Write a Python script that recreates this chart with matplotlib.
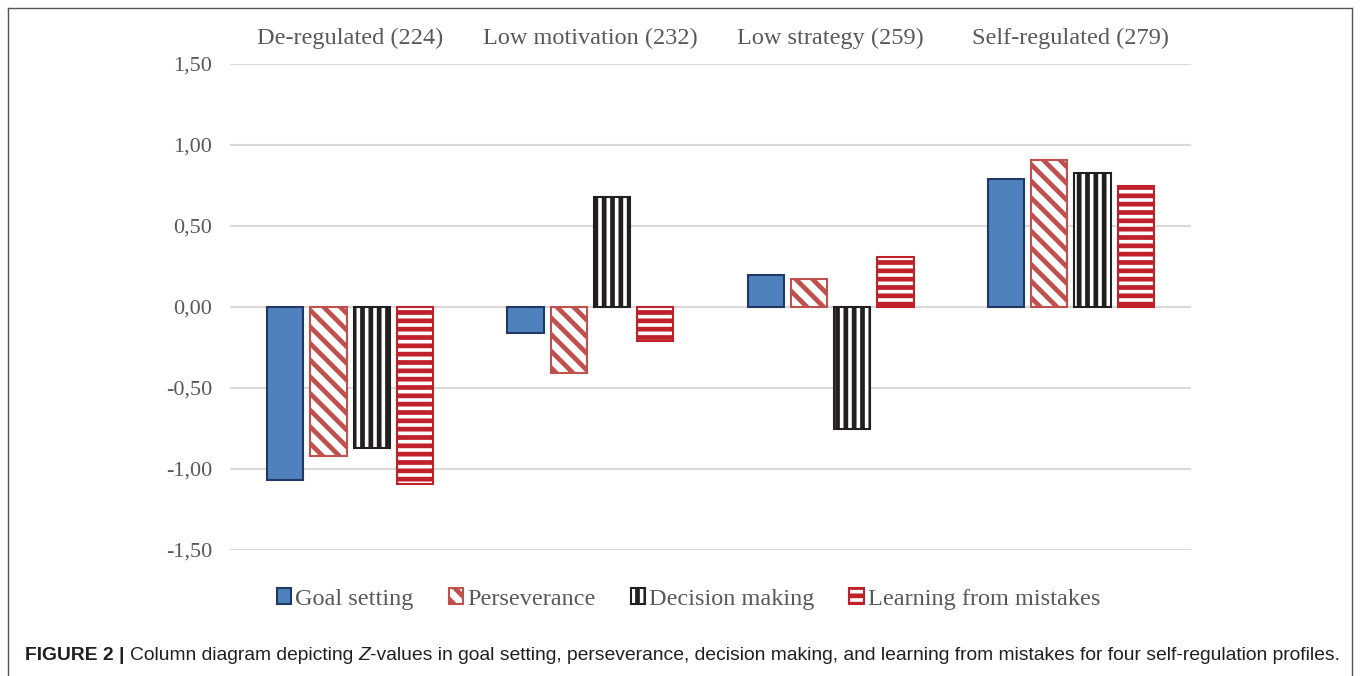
import numpy as np
import matplotlib
matplotlib.use('Agg')
import matplotlib.pyplot as plt
from matplotlib.lines import Line2D
from matplotlib.ticker import FuncFormatter

profiles = ['De-regulated (224)', 'Low motivation (232)', 'Low strategy (259)', 'Self-regulated (279)']
series = ['Goal setting', 'Perseverance', 'Decision making', 'Learning from mistakes']
goal_setting = [-1.07, -0.16, 0.20, 0.79]
perseverance = [-0.92, -0.41, 0.17, 0.91]
decision_making = [-0.87, 0.68, -0.75, 0.83]
learning = [-1.09, -0.21, 0.31, 0.75]
yticks = [-1.5, -1.0, -0.5, 0.0, 0.5, 1.0, 1.5]

plt.rcParams['hatch.linewidth'] = 3.4
txt_col = '#595959'
serif = 'Liberation Serif'

fig = plt.figure(figsize=(13.6, 6.76), dpi=100)
ax = fig.add_axes([230 / 1360, 1 - 550 / 676, 961 / 1360, 486 / 676])

x = np.arange(len(profiles))
w = 0.15
step = 0.18
styles = [
    dict(facecolor='#4F81BD', edgecolor='#1F3864', hatch=None),
    dict(facecolor='white', edgecolor='#C0504D', hatch='\\\\'),
    dict(facecolor='white', edgecolor='#231F20', hatch='||'),
    dict(facecolor='white', edgecolor='#C0202A', hatch='--'),
]
data = [goal_setting, perseverance, decision_making, learning]
for i, (vals, st) in enumerate(zip(data, styles)):
    ax.bar(x + (i - 1.5) * step, vals, width=w, label=series[i], linewidth=1.5,
           zorder=3, **st)

ax.set_xlim(-0.5, 3.5)
ax.set_ylim(-1.5, 1.5)
ax.set_yticks(yticks)
ax.yaxis.set_major_formatter(FuncFormatter(lambda v, p: f'{v:.2f}'.replace('.', ',')))
ax.grid(axis='y', color='#D9D9D9', linewidth=1.5, zorder=0)
ax.set_axisbelow(True)
ax.xaxis.tick_top()
ax.set_xticks(x)
ax.set_xticklabels(profiles)
ax.tick_params(axis='both', length=0, labelcolor=txt_col)
ax.tick_params(axis='x', pad=11, labelsize=17.5)
ax.tick_params(axis='y', pad=13, labelsize=16)
for lab in ax.get_xticklabels() + ax.get_yticklabels():
    lab.set_family(serif)
for s in ax.spines.values():
    s.set_visible(False)

leg = ax.legend(loc='center', bbox_to_anchor=(0.477, (676 - 599 - 126) / 486), ncol=4,
                frameon=False, handlelength=0.6, handleheight=0.6, handletextpad=0.15,
                columnspacing=1.45, prop={'family': serif, 'size': 17.5})
for t in leg.get_texts():
    t.set_color(txt_col)

# frame around the figure panel
fig.add_artist(Line2D([8 / 1360, 8 / 1360], [0, 1 - 8 / 676], transform=fig.transFigure, color='#555555', lw=1))
fig.add_artist(Line2D([1352 / 1360, 1352 / 1360], [0, 1 - 8 / 676], transform=fig.transFigure, color='#555555', lw=1))
fig.add_artist(Line2D([8 / 1360, 1352 / 1360], [1 - 8 / 676, 1 - 8 / 676], transform=fig.transFigure, color='#555555', lw=1))

# caption pieced together
pieces = [('FIGURE 2 | ', 'bold', 'normal'),
          ('Column diagram depicting ', 'normal', 'normal'),
          ('Z', 'normal', 'italic'),
          ('-values in goal setting, perseverance, decision making, and learning from mistakes for four self-regulation profiles.', 'normal', 'normal')]
fig.canvas.draw()
r = fig.canvas.get_renderer()
xpos = 25
for s, wgt, sty in pieces:
    t = fig.text(xpos / 1360, 1 - 655 / 676, s, family='Liberation Sans', size=13.9,
                 weight=wgt, style=sty, color='#231F20', va='center', ha='left')
    bb = t.get_window_extent(renderer=r)
    xpos += bb.width

fig.savefig('out.png', dpi=100)
